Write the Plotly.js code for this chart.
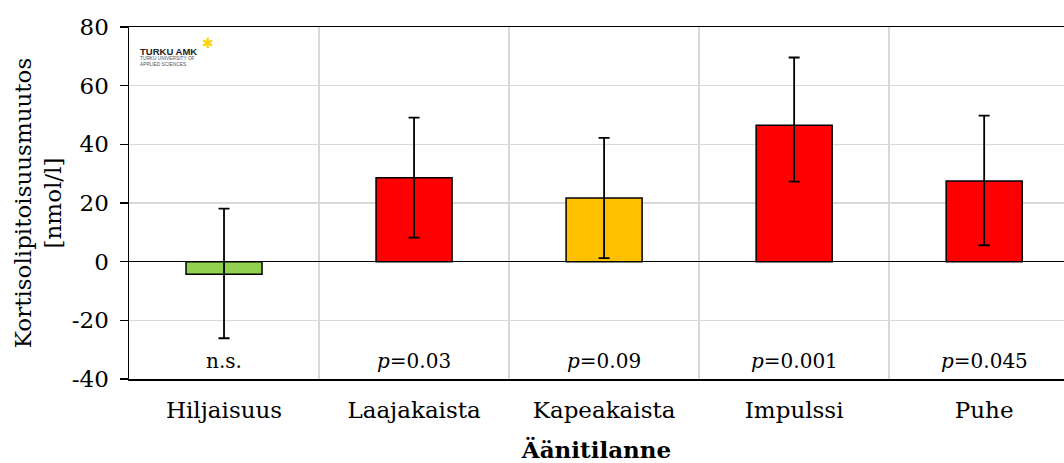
<!DOCTYPE html>
<html>
<head>
<meta charset="utf-8">
<script src="https://cdn.plot.ly/plotly-3.0.1.min.js"></script>
<style>
html,body{margin:0;padding:0;background:#fff;}
#chart{width:1064px;height:463px;}
</style>
</head>
<body>
<div id="chart"></div>
<script>
const categories = ['Hiljaisuus', 'Laajakaista', 'Kapeakaista', 'Impulssi', 'Puhe'];
const changeValues = [-4.3, 28.6, 21.7, 46.5, 27.5];
const errorPlus = [22.4, 20.5, 20.5, 23.1, 22.3];
const errorMinus = [21.8, 20.4, 20.5, 19.2, 21.9];
const barColors = ['#92D050', '#FF0000', '#FFC000', '#FF0000', '#FF0000'];
const pLabels = ['n.s.', '<i>p</i>=0.03', '<i>p</i>=0.09', '<i>p</i>=0.001', '<i>p</i>=0.045'];
const yTickVals = [-40, -20, 0, 20, 40, 60, 80];
const yTickText = ['-40', '-20', '0', '20', '40', '60', '80'];
const pLabelY = -34;

const serif = 'DejaVu Serif, Liberation Serif, serif';

const trace = {
  type: 'bar',
  x: categories,
  y: changeValues,
  width: 0.4,
  marker: {color: barColors, line: {color: '#000', width: 1.5}},
  error_y: {
    type: 'data', symmetric: false,
    array: errorPlus, arrayminus: errorMinus,
    color: '#000', thickness: 1.8, width: 5.5
  },
  hoverinfo: 'skip'
};

const annotations = categories.map((c, i) => ({
  x: c, y: pLabelY, xref: 'x', yref: 'y',
  text: pLabels[i], showarrow: false,
  font: {family: serif, size: 20, color: '#000'}
}));

// logo (decorative text)
annotations.push(
  {xref: 'paper', yref: 'paper', x: 0.0096, y: 0.93, xanchor: 'left', yanchor: 'middle',
   text: '<b>TURKU AMK</b>', showarrow: false, font: {family: 'Liberation Sans, Arial, sans-serif', size: 9.5, color: '#222'}},
  {xref: 'paper', yref: 'paper', x: 0.0096, y: 0.903, xanchor: 'left', yanchor: 'middle',
   text: 'TURKU UNIVERSITY OF<br>APPLIED SCIENCES', showarrow: false, align: 'left',
   font: {family: 'Liberation Sans, Arial, sans-serif', size: 4.8, color: '#555'}},
  {xref: 'paper', yref: 'paper', x: 0.0845, y: 0.955, xanchor: 'center', yanchor: 'middle',
   text: '✱', showarrow: false, font: {family: 'DejaVu Sans, sans-serif', size: 14, color: '#FFD400'}}
);

const layout = {
  width: 1064, height: 463,
  margin: {l: 129, r: 0, t: 27, b: 84, pad: 0},
  paper_bgcolor: '#fff', plot_bgcolor: '#fff',
  showlegend: false,
  font: {family: serif, color: '#000'},
  xaxis: {
    type: 'category',
    range: [-0.5, 4.42],
    tickson: 'boundaries',
    showgrid: true, gridcolor: '#d9d9d9', gridwidth: 1.5,
    ticks: '',
    ticklabelstandoff: 10,
    showline: true, linecolor: '#000', linewidth: 1.5, mirror: true,
    tickfont: {family: serif, size: 23, color: '#000'},
    title: {text: '<b>Äänitilanne</b>', font: {family: serif, size: 23, color: '#000'}, standoff: 20},
    fixedrange: true
  },
  yaxis: {
    range: [-40, 80],
    tickvals: yTickVals, ticktext: yTickText,
    showgrid: true, gridcolor: '#d9d9d9', gridwidth: 1.5,
    zeroline: true, zerolinecolor: '#000', zerolinewidth: 1.5,
    ticks: 'outside', ticklen: 8, tickcolor: '#000', tickwidth: 1.5,
    ticklabelstandoff: 6,
    showline: true, linecolor: '#000', linewidth: 1.5,
    tickfont: {family: serif, size: 23, color: '#000'},
    title: {text: 'Kortisolipitoisuusmuutos<br>[nmol/l]', font: {family: serif, size: 23, color: '#000'}, standoff: 4},
    fixedrange: true
  },
  annotations: annotations
};

Plotly.newPlot('chart', [trace], layout, {displayModeBar: false, staticPlot: true});
</script>
</body>
</html>
